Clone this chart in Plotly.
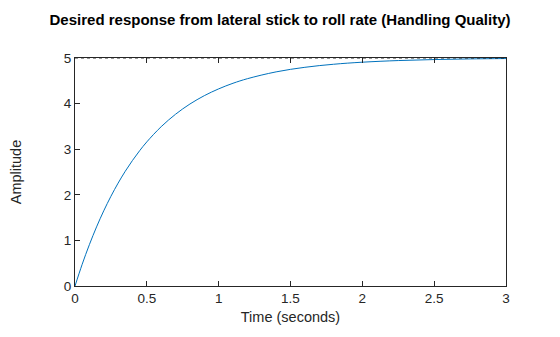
import plotly.graph_objects as go

time_s = [0, 0.05, 0.1, 0.15, 0.2, 0.25, 0.3, 0.35, 0.4, 0.45, 0.5, 0.6, 0.7, 0.8, 0.9,
          1.0, 1.1, 1.2, 1.4, 1.6, 1.8, 2.0, 2.25, 2.5, 2.75, 3.0]
amplitude = [0, 0.476, 0.906, 1.296, 1.648, 1.967, 2.256, 2.517, 2.753, 2.967, 3.161,
             3.494, 3.767, 3.991, 4.174, 4.323, 4.446, 4.546, 4.696, 4.796, 4.863,
             4.908, 4.944, 4.966, 4.980, 4.988]
steady_state = 5
x_ticks = [0, 0.5, 1, 1.5, 2, 2.5, 3]
y_ticks = [0, 1, 2, 3, 4, 5]

font_family = "Liberation Sans, Arial, sans-serif"
tick_color = "#262626"

fig = go.Figure()
fig.add_trace(go.Scatter(x=time_s, y=amplitude, mode="lines",
                         line=dict(color="#0072BD", width=1, shape="spline"),
                         showlegend=False, hoverinfo="x+y"))
fig.add_trace(go.Scatter(x=[x_ticks[0], x_ticks[-1]], y=[steady_state, steady_state], mode="lines",
                         line=dict(color="#000000", width=0.8, dash="dot"),
                         showlegend=False, hoverinfo="skip"))

fig.update_layout(
    width=560, height=337,
    margin=dict(l=75, r=54, t=58, b=51),
    paper_bgcolor="white", plot_bgcolor="white",
    font=dict(family=font_family, size=13, color=tick_color),
    title=dict(text="<b>Desired response from lateral stick to roll rate (Handling Quality)</b>",
               x=0.5, xanchor="center", y=0.94, yanchor="middle",
               font=dict(size=15, color="#000000", family=font_family)),
    xaxis=dict(range=[0, 3], tickvals=x_ticks, ticktext=[f"{v:g}" for v in x_ticks],
               showgrid=False, zeroline=False, showline=True, linecolor=tick_color, linewidth=1,
               mirror="ticks", ticks="inside", ticklen=5, tickcolor=tick_color,
               title=dict(text="Time (seconds)", standoff=6, font=dict(size=14.5)),
               tickfont=dict(size=13.5)),
    yaxis=dict(range=[0, 5], tickvals=y_ticks,
               showgrid=False, zeroline=False, showline=True, linecolor=tick_color, linewidth=1,
               mirror=True, ticks="inside", ticklen=5, tickcolor=tick_color,
               title=dict(text="Amplitude", standoff=38, font=dict(size=14.5)),
               tickfont=dict(size=13.5)),
)

fig.write_html("out.html")
